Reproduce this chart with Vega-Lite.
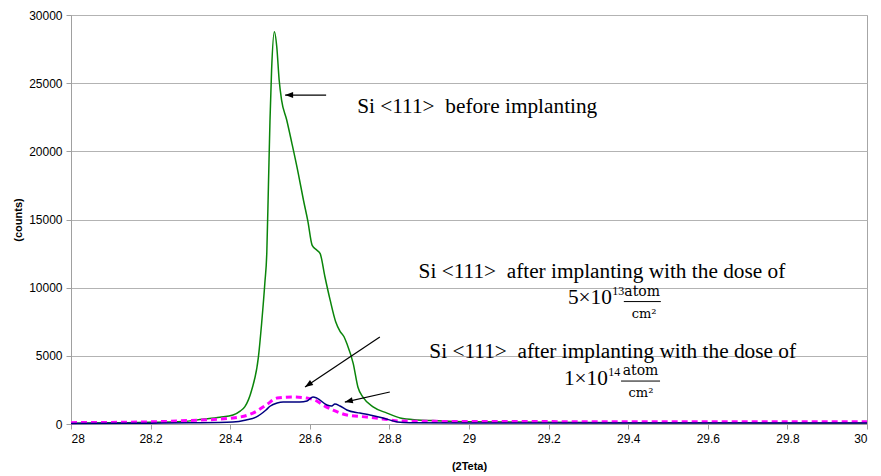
{
  "$schema": "https://vega.github.io/schema/vega-lite/v6.json",
  "width": 796,
  "height": 409,
  "autosize": "none",
  "padding": {"left": 71, "top": 15, "right": 14, "bottom": 52},
  "background": "white",
  "config": {
    "view": {"stroke": "#a6a6a6", "strokeWidth": 1},
    "axis": {
      "labelFont": "Liberation Sans",
      "labelFontSize": 12,
      "labelColor": "#000000",
      "domainColor": "#a0a0a0",
      "tickColor": "#a0a0a0",
      "tickSize": 5,
      "labelPadding": 4,
      "titleFont": "Liberation Sans",
      "titleFontSize": 11,
      "titleFontWeight": "bold",
      "titleColor": "#000000"
    }
  },
  "datasets": {
    "green": [
      {"x": 28.00, "y": 60}, {"x": 28.10, "y": 90}, {"x": 28.20, "y": 120}, {"x": 28.28, "y": 180},
      {"x": 28.33, "y": 340}, {"x": 28.374, "y": 490}, {"x": 28.407, "y": 660}, {"x": 28.425, "y": 950},
      {"x": 28.437, "y": 1270}, {"x": 28.454, "y": 2490}, {"x": 28.471, "y": 4940}, {"x": 28.479, "y": 7390},
      {"x": 28.487, "y": 10320}, {"x": 28.492, "y": 12600}, {"x": 28.496, "y": 17400}, {"x": 28.500, "y": 22300},
      {"x": 28.504, "y": 25960}, {"x": 28.511, "y": 28780}, {"x": 28.517, "y": 27670}, {"x": 28.523, "y": 25230},
      {"x": 28.529, "y": 23770}, {"x": 28.542, "y": 22300}, {"x": 28.555, "y": 20590}, {"x": 28.571, "y": 18390},
      {"x": 28.584, "y": 16430}, {"x": 28.595, "y": 14900}, {"x": 28.606, "y": 13100}, {"x": 28.618, "y": 12750},
      {"x": 28.626, "y": 12500}, {"x": 28.638, "y": 10800}, {"x": 28.651, "y": 9100}, {"x": 28.665, "y": 7500},
      {"x": 28.676, "y": 6800}, {"x": 28.686, "y": 6400}, {"x": 28.693, "y": 5900}, {"x": 28.709, "y": 4450},
      {"x": 28.721, "y": 2700}, {"x": 28.734, "y": 1950}, {"x": 28.759, "y": 1250}, {"x": 28.794, "y": 800},
      {"x": 28.827, "y": 440}, {"x": 28.87, "y": 300}, {"x": 28.91, "y": 250}, {"x": 28.95, "y": 200},
      {"x": 29.00, "y": 160}, {"x": 29.2, "y": 120}, {"x": 29.4, "y": 100}, {"x": 29.6, "y": 90},
      {"x": 29.8, "y": 80}, {"x": 30.0, "y": 80}
    ],
    "blue": [
      {"x": 28.00, "y": 40}, {"x": 28.2, "y": 60}, {"x": 28.3, "y": 90}, {"x": 28.407, "y": 150},
      {"x": 28.44, "y": 300}, {"x": 28.465, "y": 510}, {"x": 28.490, "y": 1030}, {"x": 28.50, "y": 1300},
      {"x": 28.518, "y": 1540}, {"x": 28.533, "y": 1610}, {"x": 28.575, "y": 1610}, {"x": 28.593, "y": 1690},
      {"x": 28.608, "y": 1980}, {"x": 28.618, "y": 1900}, {"x": 28.643, "y": 1390}, {"x": 28.655, "y": 1320},
      {"x": 28.663, "y": 1470}, {"x": 28.676, "y": 1320}, {"x": 28.693, "y": 1030}, {"x": 28.726, "y": 800},
      {"x": 28.751, "y": 660}, {"x": 28.784, "y": 440}, {"x": 28.82, "y": 150}, {"x": 28.85, "y": 90},
      {"x": 29.0, "y": 80}, {"x": 30.0, "y": 70}
    ],
    "magenta": [
      {"x": 28.00, "y": 100}, {"x": 28.2, "y": 160}, {"x": 28.3, "y": 260}, {"x": 28.407, "y": 440},
      {"x": 28.457, "y": 800}, {"x": 28.490, "y": 1390}, {"x": 28.518, "y": 1900}, {"x": 28.558, "y": 1980},
      {"x": 28.593, "y": 1900}, {"x": 28.613, "y": 1760}, {"x": 28.633, "y": 1390}, {"x": 28.658, "y": 1030},
      {"x": 28.693, "y": 660}, {"x": 28.743, "y": 510}, {"x": 28.784, "y": 370}, {"x": 28.827, "y": 220},
      {"x": 28.9, "y": 200}, {"x": 29.0, "y": 180}, {"x": 29.5, "y": 170}, {"x": 30.0, "y": 160}
    ],
    "arrows": [
      {"x": 28.641, "y": 24130, "x2": 28.538, "y2": 24130},
      {"x": 28.776, "y": 6380, "x2": 28.588, "y2": 2710},
      {"x": 28.801, "y": 2350, "x2": 28.688, "y2": 1610}
    ]
  },
  "encoding": {
    "x": {
      "field": "x", "type": "quantitative", "title": "(2Teta)",
      "scale": {"domain": [28, 30], "nice": false, "zero": false},
      "axis": {"values": [28, 28.2, 28.4, 28.6, 28.8, 29, 29.2, 29.4, 29.6, 29.8, 30], "format": "~f", "grid": false, "titleY": 42, "titleBaseline": "middle"}
    },
    "y": {
      "field": "y", "type": "quantitative", "title": "(counts)",
      "scale": {"domain": [0, 30000], "nice": false},
      "axis": {"values": [0, 5000, 10000, 15000, 20000, 25000, 30000], "format": "d", "grid": true, "gridColor": "#b3b3b3", "gridWidth": 1, "titleX": -53, "titleBaseline": "middle"}
    }
  },
  "layer": [
    {"data": {"name": "green"}, "mark": {"type": "line", "color": "#0a850a", "strokeWidth": 1.5, "interpolate": "monotone"}},
    {"data": {"name": "magenta"}, "mark": {"type": "line", "color": "#ff00ff", "strokeWidth": 3, "strokeDash": [6, 4], "interpolate": "monotone"}},
    {"data": {"name": "blue"}, "mark": {"type": "line", "color": "#000080", "strokeWidth": 1.5, "interpolate": "monotone"}},
    {"data": {"name": "arrows"}, "mark": {"type": "rule", "color": "#000000", "strokeWidth": 1.2}, "encoding": {"x2": {"field": "x2"}, "y2": {"field": "y2"}}},
    {"data": {"values": [{"x": 28.538, "y": 24130}]}, "mark": {"type": "point", "shape": "M0,0L-0.75,2L0.75,2Z", "size": 64, "filled": true, "color": "#000000", "opacity": 1, "angle": 270}},
    {"data": {"values": [{"x": 28.588, "y": 2710}]}, "mark": {"type": "point", "shape": "M0,0L-0.75,2L0.75,2Z", "size": 64, "filled": true, "color": "#000000", "opacity": 1, "angle": 236}},
    {"data": {"values": [{"x": 28.688, "y": 1610}]}, "mark": {"type": "point", "shape": "M0,0L-0.75,2L0.75,2Z", "size": 64, "filled": true, "color": "#000000", "opacity": 1, "angle": 257}},
    {"data": {"values": [{"x": 28.719, "y": 23250, "text": "Si <111>\u00a0 before implanting"}]},
     "mark": {"type": "text", "font": "Liberation Serif", "fontSize": 21.3, "align": "left", "baseline": "middle", "color": "#000000"},
     "encoding": {"text": {"field": "text"}}},
    {"data": {"values": [
        {"x": 29.334, "y": 11180, "text": "Si <111>\u00a0 after implanting with the dose of"},
        {"x": 29.361, "y": 5310, "text": "Si <111>\u00a0 after implanting with the dose of"}]},
     "mark": {"type": "text", "font": "Liberation Serif", "fontSize": 21.3, "align": "center", "baseline": "middle", "color": "#000000"},
     "encoding": {"text": {"field": "text"}}},
    {"data": {"values": [
        {"x": 29.359, "y": 9250, "text": "5×10"},
        {"x": 29.349, "y": 3330, "text": "1×10"}]},
     "mark": {"type": "text", "font": "Liberation Serif", "fontSize": 21.3, "align": "right", "baseline": "middle", "color": "#000000"},
     "encoding": {"text": {"field": "text"}}},
    {"data": {"values": [
        {"x": 29.360, "y": 9760, "text": "13"},
        {"x": 29.350, "y": 3850, "text": "14"}]},
     "mark": {"type": "text", "font": "Liberation Serif", "fontSize": 12, "align": "left", "baseline": "middle", "color": "#000000"},
     "encoding": {"text": {"field": "text"}}},
    {"data": {"values": [
        {"x": 29.435, "y": 9700, "text": "atom"},
        {"x": 29.431, "y": 3900, "text": "atom"}]},
     "mark": {"type": "text", "font": "DejaVu Serif", "fontSize": 14, "align": "center", "baseline": "middle", "color": "#000000"},
     "encoding": {"text": {"field": "text"}}},
    {"data": {"values": [
        {"x": 29.389, "x2": 29.482, "y": 8980},
        {"x": 29.382, "x2": 29.480, "y": 3150}]},
     "mark": {"type": "rule", "color": "#000000", "strokeWidth": 1},
     "encoding": {"x2": {"field": "x2"}}},
    {"data": {"values": [
        {"x": 29.440, "y": 8100, "text": "cm²"},
        {"x": 29.432, "y": 2260, "text": "cm²"}]},
     "mark": {"type": "text", "font": "DejaVu Serif", "fontSize": 13, "align": "center", "baseline": "middle", "color": "#000000"},
     "encoding": {"text": {"field": "text"}}}
  ]
}
